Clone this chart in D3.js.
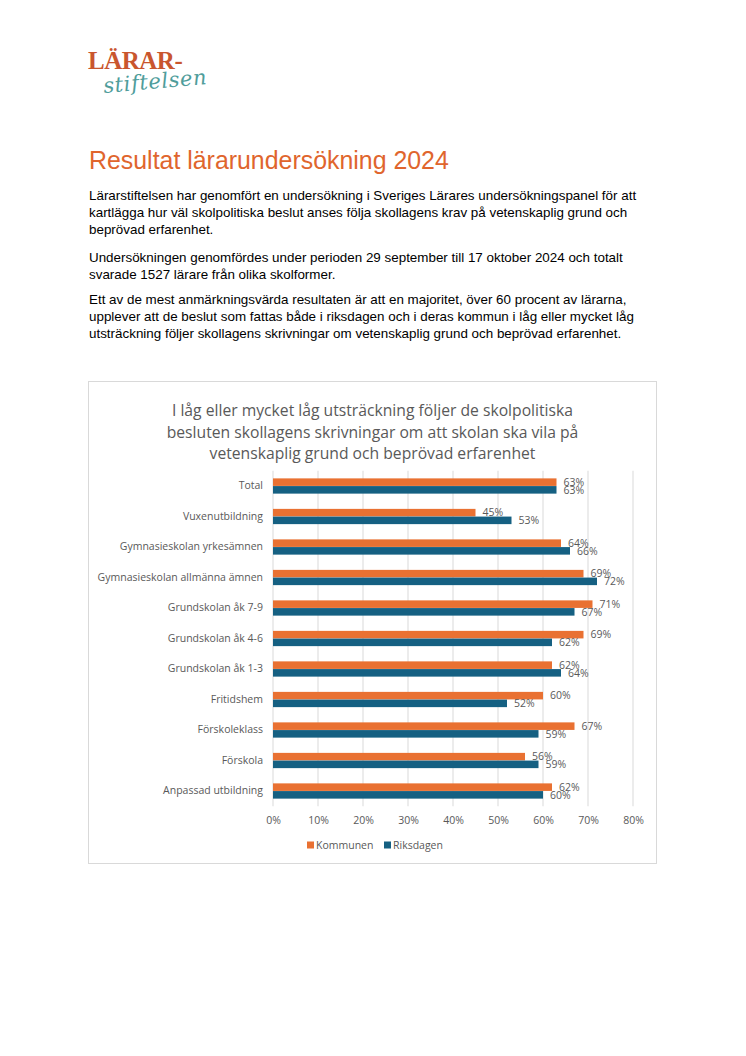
<!DOCTYPE html>
<html>
<head>
<meta charset="utf-8">
<script src="https://cdn.jsdelivr.net/npm/d3@7"></script>
<style>
  html, body { margin: 0; padding: 0; background: #fff; }
  svg { display: block; }
</style>
</head>
<body>
<svg id="page" width="746" height="1056"></svg>
<script>
// ---------- DATA ----------
const categories = [
  "Total",
  "Vuxenutbildning",
  "Gymnasieskolan yrkesämnen",
  "Gymnasieskolan allmänna ämnen",
  "Grundskolan åk 7-9",
  "Grundskolan åk 4-6",
  "Grundskolan åk 1-3",
  "Fritidshem",
  "Förskoleklass",
  "Förskola",
  "Anpassad utbildning"
];
const kommunen  = [63, 45, 64, 69, 71, 69, 62, 60, 67, 56, 62];
const riksdagen = [63, 53, 66, 72, 67, 62, 64, 52, 59, 59, 60];
const seriesNames = ["Kommunen", "Riksdagen"];
const seriesColors = ["#E97132", "#156082"];
const xTicks = [0, 10, 20, 30, 40, 50, 60, 70, 80];

const pageTitle = "Resultat lärarundersökning 2024";
const paragraphs = [
  ["Lärarstiftelsen har genomfört en undersökning i Sveriges Lärares undersökningspanel för att",
   "kartlägga hur väl skolpolitiska beslut anses följa skollagens krav på vetenskaplig grund och",
   "beprövad erfarenhet."],
  ["Undersökningen genomfördes under perioden 29 september till 17 oktober 2024 och totalt",
   "svarade 1527 lärare från olika skolformer."],
  ["Ett av de mest anmärkningsvärda resultaten är att en majoritet, över 60 procent av lärarna,",
   "upplever att de beslut som fattas både i riksdagen och i deras kommun i låg eller mycket låg",
   "utsträckning följer skollagens skrivningar om vetenskaplig grund och beprövad erfarenhet."]
];
const chartTitle = [
  "I låg eller mycket låg utsträckning följer de skolpolitiska",
  "besluten skollagens skrivningar om att skolan ska vila på",
  "vetenskaplig grund och beprövad erfarenhet"
];

// ---------- PAGE ----------
const svg = d3.select("#page");

// Logo
const logo = svg.append("g");
logo.append("text")
  .attr("x", 88).attr("y", 69)
  .attr("font-family", "Liberation Serif, serif")
  .attr("font-weight", "bold")
  .attr("font-size", 25)
  .attr("letter-spacing", -0.5)
  .attr("fill", "#C9562E")
  .text("LÄRAR-");
logo.append("text")
  .attr("x", 104).attr("y", 93)
  .attr("font-family", "DejaVu Serif, serif")
  .attr("font-style", "italic")
  .attr("font-size", 21)
  .attr("letter-spacing", 0.6)
  .attr("fill", "#4F9D9B")
  .attr("transform", "rotate(-5 104 93)")
  .text("stiftelsen");

// Title
svg.append("text")
  .attr("x", 89).attr("y", 169)
  .attr("font-family", "Liberation Sans, Arial, sans-serif")
  .attr("font-size", 24.9)
  .attr("fill", "#E0652D")
  .text(pageTitle);

// Paragraphs
const paraStarts = [200, 262, 304];
paragraphs.forEach((lines, pi) => {
  lines.forEach((line, li) => {
    svg.append("text")
      .attr("x", 89).attr("y", paraStarts[pi] + li * 17)
      .attr("font-family", "Liberation Sans, Arial, sans-serif")
      .attr("font-size", 13.4)
      .attr("fill", "#000")
      .text(line);
  });
});

// ---------- CHART ----------
const box = {x: 88.5, y: 381.5, w: 568, h: 482};
svg.append("rect")
  .attr("x", box.x).attr("y", box.y).attr("width", box.w).attr("height", box.h)
  .attr("fill", "#fff").attr("stroke", "#d9d9d9").attr("stroke-width", 1);

const chartFont = "Open Sans, Noto Sans, sans-serif";
chartTitle.forEach((line, i) => {
  svg.append("text")
    .attr("x", box.x + box.w / 2).attr("y", 416 + i * 21.5)
    .attr("text-anchor", "middle")
    .attr("font-family", chartFont)
    .attr("font-size", 15.7)
    .attr("fill", "#595959")
    .text(line);
});

const x = d3.scaleLinear().domain([0, 80]).range([273, 633]);
const y = d3.scaleBand().domain(categories).range([470.75, 806.25])
  .paddingInner(0.49).paddingOuter(0.245);
const ySub = d3.scaleBand().domain(seriesNames).range([0, y.bandwidth()]).padding(0.02);

// gridlines
svg.append("g").selectAll("line").data(xTicks).join("line")
  .attr("x1", d => x(d)).attr("x2", d => x(d))
  .attr("y1", 470.75).attr("y2", 806.25)
  .attr("stroke", "#d9d9d9").attr("stroke-width", 1);

// x axis
const xAxis = svg.append("g")
  .attr("transform", "translate(0,806.25)")
  .call(d3.axisBottom(x).tickValues(xTicks).tickSize(0).tickPadding(10).tickFormat(d => d + "%"));
xAxis.select(".domain").remove();
xAxis.selectAll("text").attr("font-family", chartFont).attr("font-size", 10.5).attr("fill", "#595959");

// y axis
const yAxis = svg.append("g")
  .attr("transform", "translate(273,0)")
  .call(d3.axisLeft(y).tickSize(0).tickPadding(10));
yAxis.select(".domain").remove();
yAxis.selectAll("text").attr("font-family", chartFont).attr("font-size", 10.5).attr("fill", "#595959");

// bars
const rows = categories.map((c, i) => ({cat: c, vals: [kommunen[i], riksdagen[i]]}));
const groups = svg.append("g").selectAll("g").data(rows).join("g")
  .attr("transform", d => `translate(0,${y(d.cat)})`);
groups.selectAll("rect").data(d => d.vals.map((v, j) => ({v, s: seriesNames[j], c: seriesColors[j]})))
  .join("rect")
  .attr("x", x(0))
  .attr("y", d => ySub(d.s))
  .attr("width", d => x(d.v) - x(0))
  .attr("height", ySub.bandwidth())
  .attr("fill", d => d.c);
groups.selectAll("text").data(d => d.vals.map((v, j) => ({v, s: seriesNames[j]})))
  .join("text")
  .attr("x", d => x(d.v) + 7)
  .attr("y", d => ySub(d.s) + ySub.bandwidth() / 2)
  .attr("dy", "0.35em")
  .attr("font-family", chartFont)
  .attr("font-size", 10.5)
  .attr("fill", "#595959")
  .text(d => d.v + "%");

// legend
const legend = svg.append("g").attr("transform", "translate(307,845)");
const legX = [0, 77];
seriesNames.forEach((s, i) => {
  legend.append("rect").attr("x", legX[i]).attr("y", -3.5).attr("width", 7).attr("height", 7)
    .attr("fill", seriesColors[i]);
  legend.append("text").attr("x", legX[i] + 9).attr("y", 0).attr("dy", "0.35em")
    .attr("font-family", chartFont).attr("font-size", 10.5).attr("fill", "#595959")
    .text(s);
});
</script>
</body>
</html>
